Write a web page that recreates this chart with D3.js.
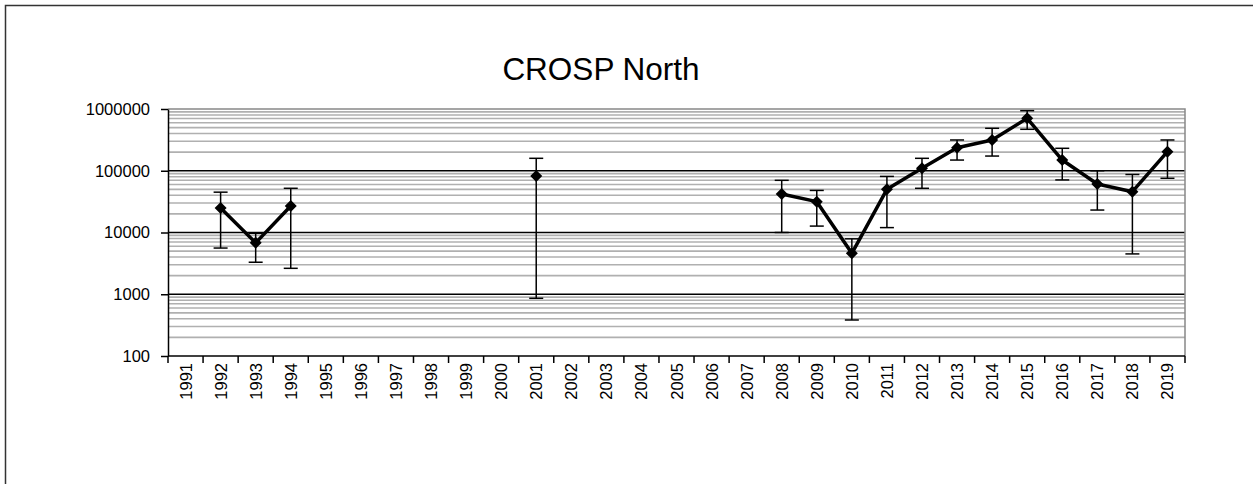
<!DOCTYPE html>
<html>
<head>
<meta charset="utf-8">
<script src="https://cdn.jsdelivr.net/npm/d3@7"></script>
<style>
    html, body { margin: 0; padding: 0; background: #fff; }
    #crosp-chart { width: 1253px; height: 484px; }
    text { font-family: Arial, "Liberation Sans", sans-serif; fill: #000; }
</style>
</head>
<body>
<div id="crosp-chart"></div>
<script>
// DATA
const years = ['1991', '1992', '1993', '1994', '1995', '1996', '1997', '1998', '1999', '2000',
    '2001', '2002', '2003', '2004', '2005', '2006', '2007', '2008', '2009', '2010',
    '2011', '2012', '2013', '2014', '2015', '2016', '2017', '2018', '2019'];
const estimate = [null, 25000, 6800, 26800, null, null, null, null, null, null,
    82000, null, null, null, null, null, null, 42000, 31600, 4600,
    50000, 110000, 236000, 315000, 707000, 149000, 61000, 45800, 204000];
const upper = [null, 45000, 9700, 52000, null, null, null, null, null, null,
    159000, null, null, null, null, null, null, 70000, 48000, 7900,
    81000, 159000, 315000, 487000, 940000, 231000, 100000, 87000, 315000];
const lower = [null, 5600, 3300, 2630, null, null, null, null, null, null,
    860, null, null, null, null, null, null, 10000, 12700, 383,
    12000, 52000, 149000, 173000, 469000, 71000, 23100, 4500, 75500];
const yTicks = [100, 1000, 10000, 100000, 1000000];
const title = 'CROSP North';

class CrospChart {
    constructor(el) {
        const vis = this;
        vis.el = el;
        vis.rows = years.map((y, i) => ({ year: y, v: estimate[i], hi: upper[i], lo: lower[i] }));
        vis.init();
    }

    init() {
        const vis = this;
        vis.chartDiv = document.getElementById(vis.el);
        vis.chartDiv.innerHTML = '';
        vis.svg = d3.select(vis.chartDiv).append('svg')
            .attr('width', 1253)
            .attr('height', 484);
        vis.redraw();
    }

    redraw() {
        const vis = this;
        const MARGIN = { top: 109, right: 68, bottom: 128, left: 168 };
        const width = 1253;
        const height = 484;
        const gWIDTH = width - MARGIN.left - MARGIN.right;
        const gHEIGHT = height - MARGIN.top - MARGIN.bottom;

        // OUTER FRAME
        vis.svg.append('path')
            .attr('d', `M5.5,${height} V5.5 H${width}`)
            .attr('fill', 'none')
            .attr('stroke', '#333')
            .attr('stroke-width', 1.5);

        // TITLE
        vis.svg.append('text')
            .attr('x', 601)
            .attr('y', 80)
            .attr('text-anchor', 'middle')
            .style('font-size', '31.5px')
            .text(title);

        const g = vis.svg.append('g')
            .attr('transform', `translate(${MARGIN.left}, ${MARGIN.top})`);

        // SCALES
        const x = d3.scaleBand()
            .domain(years)
            .range([0, gWIDTH]);

        const y = d3.scaleLog()
            .domain([100, 1000000])
            .range([gHEIGHT, 0]);

        // MINOR GRIDLINES (2..9 x 10^n)
        const minor = [];
        yTicks.slice(0, -1).forEach(t => {
            for (let k = 2; k <= 9; k++) minor.push(t * k);
        });
        g.append('g').selectAll('line')
            .data(minor)
            .enter()
            .append('line')
            .attr('x1', 0)
            .attr('x2', gWIDTH)
            .attr('y1', d => y(d))
            .attr('y2', d => y(d))
            .attr('stroke', '#b0b0b0')
            .attr('stroke-width', 1.6);

        // MAJOR GRIDLINES
        g.append('g').selectAll('line')
            .data(yTicks.slice(1, -1))
            .enter()
            .append('line')
            .attr('x1', 0)
            .attr('x2', gWIDTH)
            .attr('y1', d => y(d))
            .attr('y2', d => y(d))
            .attr('stroke', '#000')
            .attr('stroke-width', 1.5);

        // PLOT BORDER (TOP / RIGHT)
        g.append('path')
            .attr('d', `M0,0 H${gWIDTH} V${gHEIGHT}`)
            .attr('fill', 'none')
            .attr('stroke', '#888')
            .attr('stroke-width', 1.5);

        // Y AXIS
        const yAxis = g.append('g')
            .call(d3.axisLeft(y)
                .tickValues(yTicks)
                .tickFormat(d => d)
                .tickSizeInner(7)
                .tickSizeOuter(0)
                .tickPadding(11));
        yAxis.selectAll('text').style('font-size', '16.5px');
        yAxis.selectAll('line, path').attr('stroke', '#000').attr('stroke-width', 1.5);

        // X AXIS (TICKS BETWEEN CATEGORIES)
        const xAxis = g.append('g')
            .attr('transform', `translate(0, ${gHEIGHT})`);
        xAxis.append('line')
            .attr('x1', 0)
            .attr('x2', gWIDTH)
            .attr('stroke', '#000')
            .attr('stroke-width', 1.5);
        xAxis.selectAll('.x-tick')
            .data(years.concat(['end']))
            .enter()
            .append('line')
            .attr('class', 'x-tick')
            .attr('x1', (d, i) => i * x.bandwidth())
            .attr('x2', (d, i) => i * x.bandwidth())
            .attr('y1', 0)
            .attr('y2', 7)
            .attr('stroke', '#000')
            .attr('stroke-width', 1.5);
        xAxis.selectAll('.x-label')
            .data(years)
            .enter()
            .append('text')
            .attr('class', 'x-label')
            .attr('transform', d => `translate(${x(d) + x.bandwidth() / 2 + 6}, 7) rotate(-90)`)
            .attr('text-anchor', 'end')
            .style('font-size', '16.5px')
            .text(d => d);

        // ERROR BARS
        const bars = vis.rows.filter(d => d.v !== null);
        const cx = d => x(d.year) + x.bandwidth() / 2;
        const capW = 7;
        const err = g.append('g').attr('stroke', '#000').attr('stroke-width', 1.5);
        err.selectAll('.err-v')
            .data(bars)
            .enter()
            .append('line')
            .attr('x1', cx).attr('x2', cx)
            .attr('y1', d => y(d.hi)).attr('y2', d => y(d.lo));
        err.selectAll('.err-hi')
            .data(bars)
            .enter()
            .append('line')
            .attr('x1', d => cx(d) - capW).attr('x2', d => cx(d) + capW)
            .attr('y1', d => y(d.hi)).attr('y2', d => y(d.hi));
        err.selectAll('.err-lo')
            .data(bars)
            .enter()
            .append('line')
            .attr('x1', d => cx(d) - capW).attr('x2', d => cx(d) + capW)
            .attr('y1', d => y(d.lo)).attr('y2', d => y(d.lo));

        // LINE (GAPS WHERE NO DATA)
        const line = d3.line()
            .defined(d => d.v !== null)
            .x(cx)
            .y(d => y(d.v));
        g.append('path')
            .datum(vis.rows)
            .attr('d', line)
            .attr('fill', 'none')
            .attr('stroke', '#000')
            .attr('stroke-width', 3.5)
            .attr('stroke-linejoin', 'round');

        // MARKERS
        const diamond = d3.symbol().type(d3.symbolSquare).size(72);
        g.selectAll('.marker')
            .data(bars)
            .enter()
            .append('path')
            .attr('class', 'marker')
            .attr('d', diamond)
            .attr('transform', d => `translate(${cx(d)}, ${y(d.v)}) rotate(45)`)
            .attr('fill', '#000');
    }
}

new CrospChart('crosp-chart');
</script>
</body>
</html>
